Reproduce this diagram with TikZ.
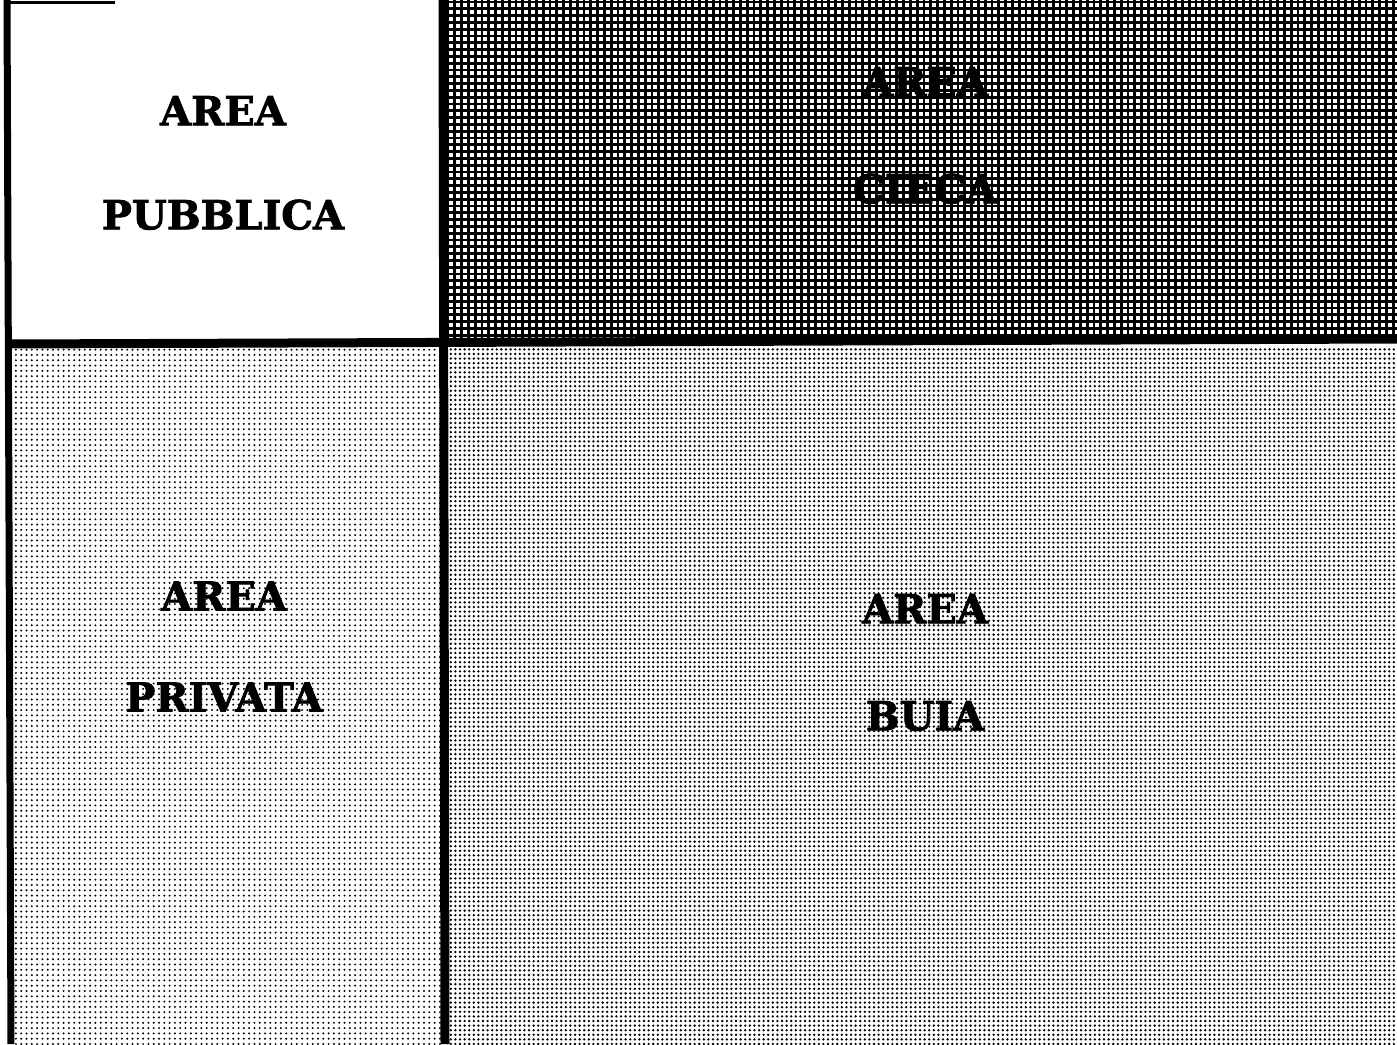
\documentclass[tikz,border=0pt]{standalone}
\usepackage{fontspec}
\setmainfont{DejaVu Serif}
\newfontfamily\labelfont{DejaVu Serif}[BoldFeatures={FakeBold=2}]
\usetikzlibrary{patterns.meta}
\tikzset{
  frameline/.style={line width=#1, black},
  gridline/.style={line width=1.35pt, black},
  quadlabel/.style={font=\labelfont\bfseries\fontsize{20}{#1}\selectfont, align=center, inner sep=0pt, text=black},
  lightdots/.style={pattern={Dots[distance=2.65pt, radius=0.55pt]}, pattern color=black},
  darkdots/.style={pattern={Dots[distance=2.3pt, radius=0.65pt]}, pattern color=black},
}
\begin{document}
\begin{tikzpicture}[x=0.5pt,y=-0.5pt]
\useasboundingbox (0,0) rectangle (1397,1044);
\fill[white] (0,0) rectangle (1397,1044);
% dotted quadrants
\path[lightdots] (12,346) rectangle (441,1044);
\path[darkdots] (447,346) rectangle (1397,1044);
% grid quadrant
\begin{scope}
\clip (446,0) rectangle (1397,338);
\foreach \k in {0,...,141} \draw[gridline] ({448+\k*6.8},0) -- ++(0,340);
\foreach \k in {0,...,50} \draw[gridline] (446,{2+\k*6.8}) -- ++(955,0);
\end{scope}
% frame
\coordinate (lt) at (7,0);
\coordinate (lb) at (11,1044);
\coordinate (vt) at (443,0);
\coordinate (vb) at (445,1044);
\coordinate (hl) at (9,344);
\coordinate (hr) at (1397,339);
\coordinate (tl) at (9,2);
\coordinate (tr) at (115,2);
\draw[frameline=3.5pt] (lt) -- (lb);
\draw[frameline=4.5pt] (vt) -- (vb);
\draw[frameline=4.5pt] (hl) -- (hr);
\draw[frameline=1.5pt] (tl) -- (tr);
% labels
\node[quadlabel=52pt] (pubblica) at (223,163) {AREA\\PUBBLICA};
\node[quadlabel=53.5pt] (cieca) at (925,135.5) {AREA\\CIECA};
\node[quadlabel=50.5pt] (privata) at (224,646.5) {AREA\\PRIVATA};
\node[quadlabel=53.5pt] (buia) at (925,662.5) {AREA\\BUIA};
\end{tikzpicture}
\end{document}
